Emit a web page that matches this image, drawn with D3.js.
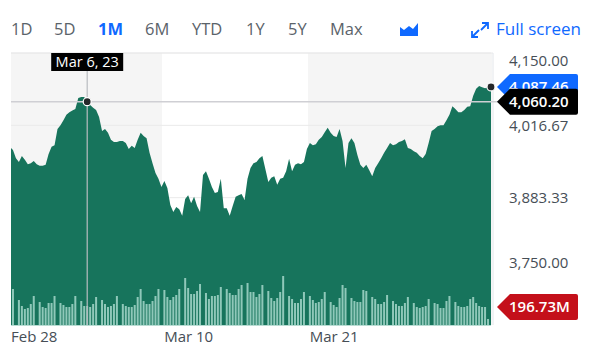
<!doctype html>
<html>
<head>
  <style type="text/css">
    html, body { margin: 0; padding: 0; background: #fff; }
    svg { display: block; }
    text { font-family: "Open Sans", sans-serif; }
    .range { font-size: 16.5px; fill: #5b636a; }
    .range.active { fill: #0f69ff; font-weight: 700; }
    .axis path, .axis line { display: none; }
    .axis text { font-family: "Open Sans", sans-serif; font-size: 15px; fill: #464e56; }
    .tag { font-size: 15px; font-weight: 600; fill: #fff; }
  </style>
  <title>1M area chart</title>
</head>
<body>
<svg class="chart" width="604" height="355"></svg>

<script type="text/javascript" src="https://cdnjs.cloudflare.com/ajax/libs/d3/7.8.5/d3.min.js"></script>
<script type="text/javascript">

var ranges = ["1D", "5D", "1M", "6M", "YTD", "1Y", "5Y", "Max"];
var rangeLefts = [11, 54, 98, 145, 192, 246, 288, 330];
var activeRange = "1M";

var priceTicks = [4150, 4016.67, 3883.33, 3750];
var dateTicks = [7, 59, 108];
var dateLabels = ["Feb 28", "Mar 10", "Mar 21"];

var lastPrice = 4087.46;
var hoverPrice = 4060.20;
var hoverIndex = 25;
var hoverLabel = "Mar 6, 23";
var lastVolume = 196.73;

// one close per slot, the first slot sits just left of the plot
var prices = [3977,
  3971,3956,3949,3960,3953,3945,3947,3951,3945,3942,3942,3944,3964,3977,3980,4010,
  4017,4026,4036,4041,4044,4047,4067,4069,4069,4060.2,4054,4049,4045,4032,4006,4010,
  4003,3990,3986,3986,3988,3988,3984,3973,3979,3975,3990,4003,3997,3993,3966,3947,
  3929,3918,3903,3914,3901,3870,3857,3866,3862,3850,3881,3888,3873,3885,3868,3857,
  3925,3932,3918,3903,3892,3894,3918,3864,3864,3850,3868,3885,3888,3890,3879,3918,
  3938,3947,3949,3956,3960,3936,3912,3920,3923,3907,3918,3920,3932,3955,3932,3944,
  3947,3945,3949,3973,3984,3980,3982,3990,3995,4004,4012,4003,3997,3995,4010,3988,
  3938,3984,3993,3984,3962,3944,3938,3944,3934,3923,3938,3947,3956,3966,3975,3984,
  3980,3982,3986,3988,3991,3975,3973,3969,3966,3960,3956,3964,3984,4006,4010,4015,
  4017,4017,4026,4036,4052,4047,4041,4041,4045,4051,4052,4071,4084,4089,4087,4085,
  4087,4087.46];

// millions, 0 where the slot between two sessions is empty
var volumes = [
  396,0,275,209,176,187,231,319,0,253,198,187,242,242,319,0,242,220,198,198,231,319,0,
  264,209,209,198,231,308,0,275,231,198,209,231,319,0,231,209,198,198,220,308,396,264,
  231,231,264,319,396,0,385,308,275,308,330,396,0,517,407,341,341,374,451,0,352,286,
  319,319,330,418,0,396,352,330,330,396,440,0,462,363,363,308,341,440,0,374,297,264,
  297,363,539,0,319,286,242,242,286,363,0,319,275,242,253,286,363,0,253,220,198,297,
  440,407,0,297,264,253,253,385,374,0,308,286,231,231,253,330,0,264,231,209,209,242,
  308,0,242,198,187,198,209,286,0,242,231,187,187,264,319,0,253,209,198,198,209,286,
  308,242,209,198,198,66];

var plot = { left: 11, right: 491, top: 53, bottom: 325, shadeEnd: 162, shadeStart: 308 };

var svg = d3.select(".chart");

var x = d3.scaleLinear().domain([-1, 161]).range([10, 491]);
var y = d3.scaleLinear().domain([3750, 4150]).range([270, plot.top]);
var yVol = d3.scaleLinear().domain([0, 550]).range([plot.bottom, plot.bottom - 50]);

// range buttons
svg.append("g").selectAll("text")
  .data(ranges)
  .enter().append("text")
  .attr("class", function(d) { return d == activeRange ? "range active" : "range"; })
  .attr("x", function(d, i) { return rangeLefts[i]; })
  .attr("y", 35)
  .text(function(d) { return d; });

// chart type icon
svg.append("path")
  .attr("fill", "#0f69ff")
  .attr("d", "M400 36V27L404 30L409 26L413 29L418 23V36Z");

// full screen icon
svg.append("g")
  .attr("fill", "none")
  .attr("stroke", "#0f69ff")
  .attr("stroke-width", 1.8)
  .selectAll("path")
  .data(["M488 23L481 30M482 23H488V29", "M472 37L479 30M472 31V37H478"])
  .enter().append("path")
  .attr("d", function(d) { return d; });

svg.append("text")
  .attr("x", 496)
  .attr("y", 35)
  .attr("fill", "#0f69ff")
  .style("font-size", "17px")
  .text("Full screen");

// background bands
svg.append("rect")
  .attr("x", plot.left).attr("y", plot.top)
  .attr("width", plot.shadeEnd - plot.left).attr("height", plot.bottom - plot.top)
  .attr("fill", "#f5f5f5");
svg.append("rect")
  .attr("x", plot.shadeStart).attr("y", plot.top)
  .attr("width", plot.right + 1 - plot.shadeStart).attr("height", plot.bottom - plot.top)
  .attr("fill", "#f5f5f5");
svg.append("line")
  .attr("x1", plot.left).attr("x2", plot.right + 2)
  .attr("y1", plot.top).attr("y2", plot.top)
  .attr("stroke", "#e9e9ea");
svg.append("line")
  .attr("x1", plot.right + 2).attr("x2", plot.right + 2)
  .attr("y1", plot.top).attr("y2", plot.bottom)
  .attr("stroke", "#e3e6ea");

// grid
svg.append("g").selectAll("line")
  .data(priceTicks)
  .enter().append("line")
  .attr("x1", plot.left).attr("x2", plot.right)
  .attr("y1", function(d) { return y(d); })
  .attr("y2", function(d) { return y(d); })
  .attr("stroke", "#eaeaea");

// price area
svg.append("clipPath").attr("id", "plot-clip")
  .append("rect")
  .attr("x", plot.left).attr("y", plot.top)
  .attr("width", plot.right - plot.left).attr("height", plot.bottom - plot.top);

var area = d3.area()
  .x(function(d, i) { return x(i - 1); })
  .y0(plot.bottom)
  .y1(function(d) { return y(d); });

svg.append("path")
  .datum(prices)
  .attr("clip-path", "url(#plot-clip)")
  .attr("fill", "#17745c")
  .attr("d", area);

// volume
svg.append("g").selectAll("rect")
  .data(volumes)
  .enter().append("rect")
  .attr("x", function(d, i) { return x(i) - 1; })
  .attr("width", 2)
  .attr("y", function(d) { return yVol(d); })
  .attr("height", function(d) { return plot.bottom - yVol(d); })
  .attr("fill", "#8fc8b9");

svg.append("line")
  .attr("x1", plot.left).attr("x2", plot.right)
  .attr("y1", plot.bottom + 0.5).attr("y2", plot.bottom + 0.5)
  .attr("stroke", "#b9dcd3");

// axes
var yAxis = svg.append("g")
  .attr("class", "axis")
  .attr("transform", "translate(500,0)")
  .call(d3.axisRight(y)
    .tickValues(priceTicks)
    .tickSize(0)
    .tickPadding(9)
    .tickFormat(d3.format(",.2f")));

// first and last labels get pushed inside the chart
yAxis.selectAll(".tick text")
  .attr("dy", function(d) {
    if (d == 4150) return 12;
    if (d == 3750) return -3;
    return 5;
  });

svg.append("g")
  .attr("class", "axis")
  .attr("transform", "translate(0," + plot.bottom + ")")
  .call(d3.axisBottom(x)
    .tickValues(dateTicks)
    .tickSize(0)
    .tickPadding(6)
    .tickFormat(function(d, i) { return dateLabels[i]; }));

// crosshair
var hx = x(hoverIndex), hy = y(hoverPrice);
svg.append("line")
  .attr("x1", plot.left).attr("x2", 500)
  .attr("y1", hy).attr("y2", hy)
  .attr("stroke", "#cfcfd4").attr("stroke-width", 1.5);
svg.append("line")
  .attr("x1", hx).attr("x2", hx)
  .attr("y1", 70).attr("y2", plot.bottom)
  .attr("stroke", "#b9bcc0").attr("stroke-width", 1.2);

function dot(cx, cy) {
  svg.append("circle")
    .attr("cx", cx).attr("cy", cy).attr("r", 4)
    .attr("fill", "#26282a")
    .attr("stroke", "#fff").attr("stroke-width", 1.2);
}
dot(hx, hy);
dot(x(161), y(lastPrice));

// date tooltip
svg.append("rect")
  .attr("x", hx - 36).attr("y", plot.top)
  .attr("width", 72).attr("height", 18)
  .attr("fill", "#000");
svg.append("text")
  .attr("x", hx).attr("y", plot.top + 14)
  .attr("text-anchor", "middle")
  .attr("fill", "#fff")
  .style("font-size", "14.5px")
  .text(hoverLabel);

// value tags on the right
function tag(cy, color, label) {
  var h = 13;
  svg.append("path")
    .attr("fill", color)
    .attr("d", "M497 " + cy + "L510 " + (cy - h) + "H576Q578 " + (cy - h) + " 578 " + (cy - h + 2) +
      "V" + (cy + h - 2) + "Q578 " + (cy + h) + " 576 " + (cy + h) + "H510Z");
  svg.append("text")
    .attr("class", "tag")
    .attr("x", 509).attr("y", cy + 5)
    .text(label);
}
tag(y(lastPrice), "#0f69ff", d3.format(",.2f")(lastPrice));
tag(y(hoverPrice), "#000", d3.format(",.2f")(hoverPrice));
tag(yVol(lastVolume), "#c4101a", lastVolume.toFixed(2) + "M");

</script>
</body>
</html>
